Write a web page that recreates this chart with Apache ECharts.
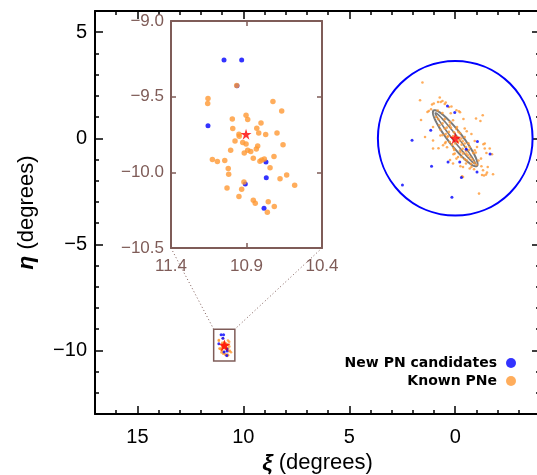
<!DOCTYPE html>
<html>
<head>
<meta charset="utf-8">
<script src="https://cdn.jsdelivr.net/npm/echarts@6/dist/echarts.min.js"></script>
<style>
  html, body { margin: 0; padding: 0; background: #fff; }
  #chart { width: 537px; height: 475px; }
</style>
</head>
<body>
<div id="chart"></div>
<script>
// axis ranges and tick labels
const xiRange = [-4, 17]
const etaRange = [-13, 6]
const xiMajorTicks = [0, 5, 10, 15]
const etaMajorTicks = [-10, -5, 0, 5]
const insetXiRange = [10.4, 11.4]
const insetEtaRange = [-10.5, -9.0]
const insetXiLabels = [11.4, 10.9, 10.4]
const insetXiTicks = [10.9]
const insetEtaLabels = [-9.0, -9.5, -10.0, -10.5]
const insetEtaTicks = [-9.5, -10.0]

// galaxy centres (M31, M33)
const galaxyCenters = [[0, 0], [10.89, -9.76]]
const m33Center = [[10.903, -9.748]]

// 50 kpc halo circle round M31 and the disk outlines
const haloCircle = [[0, 0, 3.65]]
const diskPA = 38
const diskEllipses = [[1.66, 0.33], [1.52, 0.12]]

// PNe around M31 (xi, eta in degrees)
const m31Known = [
  [1.547, 2.627], [1.660, 1.792], [0.731, 1.920], [0.811, 1.712], [0.684, 1.712], [0.604, 1.759],
  [1.094, 1.590], [0.495, 1.618], [0.179, 1.495], [1.142, 1.368], [1.250, 1.288], [1.311, 1.241],
  [0.825, 1.307], [0.604, 1.193], [0.212, 1.179], [-0.226, 1.226], [1.613, 0.863], [0.104, 0.849],
  [-0.387, 0.910], [-0.981, 0.929], [-1.297, 1.085], [-1.189, 0.816], [1.047, 0.533], [0.745, 0.613],
  [0.495, 0.458], [0.259, 0.613], [-0.085, 0.533], [-0.542, 0.330], [-0.764, 0.203], [0.057, 0.283],
  [-0.226, 0.236], [1.425, 0.061], [0.698, 0.127], [0.368, 0.061], [-0.292, -0.014], [-0.448, 0.061],
  [0.259, -0.175], [-0.132, -0.175], [-0.354, -0.142], [-0.623, -0.236], [-0.920, -0.127], [-1.330, -0.283],
  [1.047, -0.108], [0.481, -0.236], [0.387, -0.425], [0.792, -0.472], [1.047, -0.486], [0.071, -0.472],
  [-0.226, -0.580], [-0.509, -0.410], [-1.028, -0.410], [-1.392, -0.486], [0.085, -0.755], [-0.368, -0.722],
  [-0.967, -0.675], [-1.472, -0.693], [-1.736, -0.755], [-1.217, -0.958], [0.245, -1.024], [-0.132, -0.882],
  [-0.448, -0.991], [-0.509, -1.193], [-0.245, -1.321], [-0.764, -1.354], [-0.887, -1.462], [-1.236, -1.321],
  [-1.533, -1.354], [-1.500, -1.618], [-1.264, -1.731], [-1.358, -1.759], [-1.453, -1.712], [-1.783, -1.698],
  [-0.321, -1.792], [-1.123, -2.608], [1.014, 1.637], [0.448, 1.684], [0.292, 1.476], [-0.057, 1.321],
  [-0.179, 1.274], [0.575, -0.330], [0.448, -0.175], [-0.448, 0.458], [-1.392, -0.250], [-1.627, -0.486],
  [-0.684, -0.410], [-0.528, -0.722], [-0.920, -0.566], [0.024, -0.722], [-0.057, -0.958], [-0.292, -0.882],
  [-0.368, -1.354], [-0.684, -1.429], [0.104, -1.193], [-1.311, -1.509], [-0.368, -1.825],
  [0.6, 0.7], [0.5, 0.9], [0.4, 0.5], [0.3, 0.3], [0.2, 0.5], [0.1, 0.1], [-0.1, 0.05], [-0.2, -0.1],
  [-0.3, -0.3], [-0.35, -0.5], [-0.5, -0.6], [-0.6, -0.8], [-0.7, -0.9], [-0.8, -1.0], [-0.9, -1.15],
  [-1.0, -1.25], [0.15, -0.3], [0.0, -0.25], [-0.15, 0.3], [0.35, 0.1], [0.45, 0.2], [0.7, 0.4],
  [0.8, 0.9], [0.9, 1.0], [-0.45, -0.25], [-0.65, -0.55], [-0.55, -1.05], [-0.75, -1.2], [0.25, 0.75],
  [-0.05, 0.45], [0.6, 0.15], [-0.25, -0.65], [0.05, -0.55], [-1.1, -1.05], [-0.85, -0.7]
]
const m31New = [
  [0.368, 1.524], [0.024, 1.212], [1.156, 0.377], [2.038, -0.094], [-1.047, -0.156], [-0.519, -0.519],
  [-1.642, -0.741], [-0.212, -1.121], [0.340, -1.118], [1.118, -1.321], [-1.028, -1.594], [-0.292, -1.849],
  [2.491, -2.208], [0.156, -2.783]
]

// PNe around M33
const m33Known = [
  [10.965, -9.426], [11.155, -9.512], [11.157, -9.545], [10.725, -9.532], [10.667, -9.594], [10.903, -9.623],
  [10.892, -9.651], [10.994, -9.647], [10.804, -9.674], [10.991, -9.711], [10.832, -9.709], [10.950, -9.748],
  [10.948, -9.762], [10.819, -9.740], [10.773, -9.750], [10.698, -9.740], [10.976, -9.793], [10.925, -9.803],
  [10.903, -9.813], [10.826, -9.826], [10.835, -9.846], [10.658, -9.817], [11.005, -9.854], [10.892, -9.854],
  [10.872, -9.863], [10.915, -9.872], [10.855, -9.907], [10.718, -9.896], [11.126, -9.916], [11.093, -9.929],
  [11.044, -9.921], [10.811, -9.927], [10.799, -9.919], [10.782, -9.912], [11.021, -9.974], [10.744, -9.969],
  [11.018, -10.013], [10.678, -10.042], [10.634, -10.018], [10.917, -10.064], [10.581, -10.086], [10.932, -10.111],
  [11.029, -10.104], [10.950, -10.159], [10.855, -10.185], [10.842, -10.205], [10.756, -10.194], [10.716, -10.225],
  [10.762, -10.263]
]
const m33New = [
  [11.049, -9.258], [10.932, -9.258], [11.155, -9.693], [10.771, -9.932], [10.769, -10.035], [10.908, -10.077],
  [10.784, -10.238], [10.963, -9.428]
]

const BLUE = '#0000ff'
const ORANGE = '#ff9933'
const BROWN = '#7f5c58'
const FONT = 'Liberation Sans'
const STAR = 'path://M50,0 L61.2,34.5 L97.6,34.5 L68.2,55.9 L79.4,90.5 L50,69.1 L20.6,90.5 L31.8,55.9 L2.4,34.5 L38.8,34.5 Z'

const minus = (v) => String(v).replace('-', '\u2212')

const chart = echarts.init(document.getElementById('chart'))

// frame axis helper: one axis carries the minor ticks, the other the major ones
function frameAxis(dim, pos, range, grid, major, opts) {
  const minor = {
    type: 'value', gridIndex: grid, position: pos, min: range[0], max: range[1], interval: 1,
    inverse: dim === 'x',
    axisLine: { show: true, onZero: false, lineStyle: { color: '#000', width: 2 } },
    axisTick: { show: true, inside: true, length: 4, lineStyle: { color: '#000', width: 1.5 } },
    axisLabel: { show: false }, splitLine: { show: false }
  }
  const main = {
    type: 'value', gridIndex: grid, position: pos, min: range[0], max: range[1],
    inverse: dim === 'x',
    axisLine: { show: false, onZero: false },
    axisTick: { show: true, inside: true, length: 8, customValues: major, lineStyle: { color: '#000', width: 1.5 } },
    axisLabel: { show: false }, splitLine: { show: false }
  }
  return [Object.assign(main, opts || {}), minor]
}

const nameStyle = {
  fontFamily: FONT, fontSize: 22, color: '#000',
  rich: { g: { fontFamily: FONT, fontSize: 23, fontWeight: 'bold', fontStyle: 'italic', color: '#000' } }
}

const xAxes = [].concat(
  frameAxis('x', 'bottom', xiRange, 0, xiMajorTicks, {
    name: '{g|\u03be} (degrees)', nameLocation: 'middle', nameGap: 36, nameTextStyle: nameStyle,
    axisLabel: { show: true, customValues: xiMajorTicks, formatter: minus, fontFamily: FONT, fontSize: 20, color: '#000', margin: 13 }
  }),
  frameAxis('x', 'top', xiRange, 0, xiMajorTicks),
  [
    {
      type: 'value', gridIndex: 1, position: 'bottom', min: insetXiRange[0], max: insetXiRange[1], inverse: true,
      axisLine: { show: true, onZero: false, lineStyle: { color: BROWN, width: 2 } },
      axisTick: { show: true, inside: true, length: 5, customValues: insetXiTicks, lineStyle: { color: BROWN, width: 1.5 } },
      axisLabel: { show: true, customValues: insetXiLabels, formatter: (v) => v.toFixed(1), fontFamily: FONT, fontSize: 17, color: BROWN, margin: 10 },
      splitLine: { show: false }
    },
    {
      type: 'value', gridIndex: 1, position: 'top', min: insetXiRange[0], max: insetXiRange[1], inverse: true,
      axisLine: { show: true, onZero: false, lineStyle: { color: BROWN, width: 2 } },
      axisTick: { show: true, inside: true, length: 5, customValues: insetXiTicks, lineStyle: { color: BROWN, width: 1.5 } },
      axisLabel: { show: false }, splitLine: { show: false }
    }
  ]
)

const yAxes = [].concat(
  frameAxis('y', 'left', etaRange, 0, etaMajorTicks, {
    name: '{g|\u03b7} (degrees)', nameLocation: 'middle', nameGap: 57, nameTextStyle: nameStyle,
    axisLabel: { show: true, customValues: etaMajorTicks, formatter: minus, fontFamily: FONT, fontSize: 20, color: '#000', margin: 8 }
  }),
  frameAxis('y', 'right', etaRange, 0, etaMajorTicks),
  [
    {
      type: 'value', gridIndex: 1, position: 'left', min: insetEtaRange[0], max: insetEtaRange[1],
      axisLine: { show: true, onZero: false, lineStyle: { color: BROWN, width: 2 } },
      axisTick: { show: true, inside: true, length: 5, customValues: insetEtaTicks, lineStyle: { color: BROWN, width: 1.5 } },
      axisLabel: { show: true, customValues: insetEtaLabels, formatter: (v) => minus(v.toFixed(1)), fontFamily: FONT, fontSize: 17, color: BROWN, margin: 7 },
      splitLine: { show: false }
    },
    {
      type: 'value', gridIndex: 1, position: 'right', min: insetEtaRange[0], max: insetEtaRange[1],
      axisLine: { show: true, onZero: false, lineStyle: { color: BROWN, width: 2 } },
      axisTick: { show: true, inside: true, length: 5, customValues: insetEtaTicks, lineStyle: { color: BROWN, width: 1.5 } },
      axisLabel: { show: false }, splitLine: { show: false }
    }
  ]
)

const option = {
  animation: false,
  backgroundColor: '#fff',
  grid: [
    { left: 95, top: 11, right: -3, bottom: 61, containLabel: false, outerBoundsMode: 'none' },
    { left: 171, top: 21, width: 151, height: 227, containLabel: false, outerBoundsMode: 'none', show: true, backgroundColor: '#fff', borderWidth: 0 }
  ],
  xAxis: xAxes,
  yAxis: yAxes,
  legend: {
    data: ['New PN candidates', 'Known PNe'],
    orient: 'vertical', align: 'right', right: 16, top: 351,
    icon: 'circle', itemWidth: 10, itemHeight: 10, itemGap: 4,
    selectedMode: false,
    textStyle: { fontFamily: 'DejaVu Sans', fontSize: 14, fontWeight: 'bold', color: '#000', padding: [0, 4, 0, 0] }
  },
  series: [
    {
      type: 'custom', xAxisIndex: 0, yAxisIndex: 0, silent: true, clip: false,
      data: haloCircle,
      renderItem: function (params, api) {
        const c = api.coord([api.value(0), api.value(1)])
        const r = api.size([api.value(2), 0])[0]
        return { type: 'circle', shape: { cx: c[0], cy: c[1], r: r }, style: { fill: 'none', stroke: BLUE, lineWidth: 2 } }
      }
    },
    {
      type: 'custom', xAxisIndex: 0, yAxisIndex: 0, silent: true, z: 3,
      data: diskEllipses,
      renderItem: function (params, api) {
        const a = api.value(0), b = api.value(1)
        const pa = diskPA * Math.PI / 180
        const pts = []
        for (let i = 0; i <= 90; i++) {
          const t = i / 90 * 2 * Math.PI
          const xi = a * Math.cos(t) * Math.sin(pa) + b * Math.sin(t) * Math.cos(pa)
          const eta = a * Math.cos(t) * Math.cos(pa) - b * Math.sin(t) * Math.sin(pa)
          pts.push(api.coord([galaxyCenters[0][0] + xi, galaxyCenters[0][1] + eta]))
        }
        return { type: 'polyline', shape: { points: pts }, style: { fill: 'none', stroke: '#7a7a7a', lineWidth: params.dataIndex === 0 ? 2 : 1.6 } }
      }
    },
    {
      // footprint of the zoomed M33 field
      type: 'custom', xAxisIndex: 0, yAxisIndex: 0, silent: true,
      data: [[insetXiRange[0], insetEtaRange[0], insetXiRange[1], insetEtaRange[1]]],
      renderItem: function (params, api) {
        const p1 = api.coord([api.value(0), api.value(1)])
        const p2 = api.coord([api.value(2), api.value(3)])
        return {
          type: 'rect',
          shape: { x: Math.min(p1[0], p2[0]), y: Math.min(p1[1], p2[1]), width: Math.abs(p2[0] - p1[0]), height: Math.abs(p2[1] - p1[1]) },
          style: { fill: 'none', stroke: BROWN, lineWidth: 1.5 }
        }
      }
    },
    {
      name: 'Known PNe', type: 'scatter', xAxisIndex: 0, yAxisIndex: 0, silent: true, z: 4,
      symbol: 'circle', symbolSize: 2.6, itemStyle: { color: ORANGE },
      data: m31Known.concat(m33Known)
    },
    {
      name: 'New PN candidates', type: 'scatter', xAxisIndex: 0, yAxisIndex: 0, silent: true, z: 5,
      symbol: 'circle', symbolSize: 3, itemStyle: { color: BLUE },
      data: m31New.concat(m33New)
    },
    {
      type: 'scatter', xAxisIndex: 0, yAxisIndex: 0, silent: true, z: 6,
      symbol: STAR, symbolSize: 12, itemStyle: { color: '#ff0000' },
      data: galaxyCenters
    },
    {
      name: 'New PN candidates', type: 'scatter', xAxisIndex: 4, yAxisIndex: 4, silent: true, z: 4,
      symbol: 'circle', symbolSize: 5, itemStyle: { color: BLUE },
      data: m33New
    },
    {
      name: 'Known PNe', type: 'scatter', xAxisIndex: 4, yAxisIndex: 4, silent: true, z: 5,
      symbol: 'circle', symbolSize: 5.5, itemStyle: { color: ORANGE },
      data: m33Known
    },
    {
      type: 'scatter', xAxisIndex: 4, yAxisIndex: 4, silent: true, z: 6,
      symbol: STAR, symbolSize: 11, itemStyle: { color: '#ff0000' },
      data: m33Center
    }
  ]
}

chart.setOption(option)

// dotted connectors from the inset's lower corners to the footprint's upper corners
const insetLeft = chart.convertToPixel({ gridIndex: 1 }, [insetXiRange[1], insetEtaRange[0]])
const insetRight = chart.convertToPixel({ gridIndex: 1 }, [insetXiRange[0], insetEtaRange[0]])
const boxLeft = chart.convertToPixel({ gridIndex: 0 }, [insetXiRange[1], insetEtaRange[1]])
const boxRight = chart.convertToPixel({ gridIndex: 0 }, [insetXiRange[0], insetEtaRange[1]])
const dotted = { stroke: BROWN, lineWidth: 1, lineDash: [1, 2.5] }
chart.setOption({
  graphic: [
    { type: 'line', silent: true, shape: { x1: insetLeft[0], y1: insetLeft[1], x2: boxLeft[0], y2: boxLeft[1] }, style: dotted },
    { type: 'line', silent: true, shape: { x1: insetRight[0], y1: insetRight[1], x2: boxRight[0], y2: boxRight[1] }, style: dotted }
  ]
})
</script>
</body>
</html>
